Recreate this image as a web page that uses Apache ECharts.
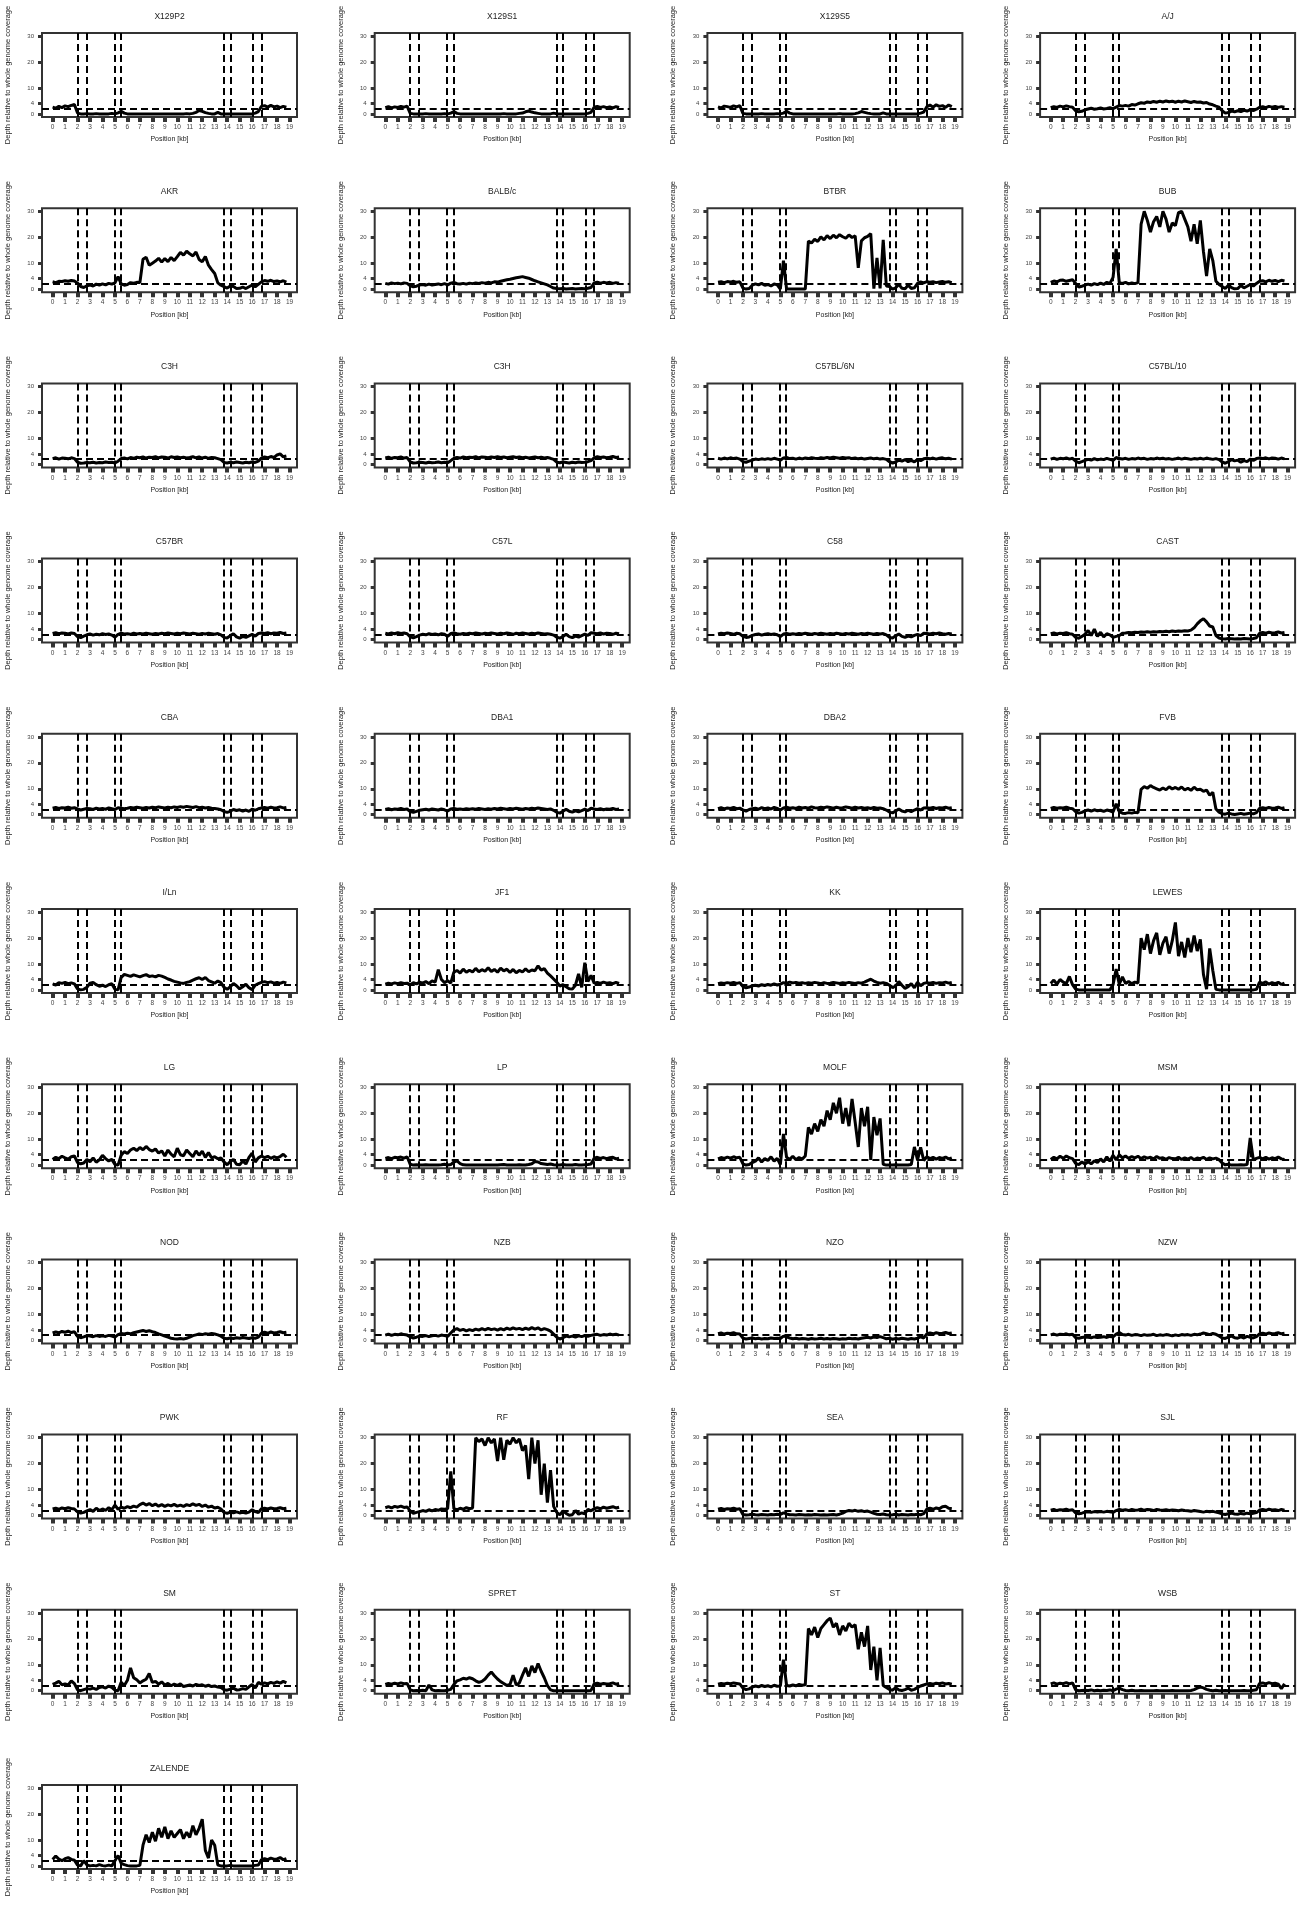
<!DOCTYPE html>
<html>
<head>
<meta charset="utf-8">
<script src="https://cdn.jsdelivr.net/npm/echarts@6/dist/echarts.min.js"></script>
<style>
html, body { margin: 0; padding: 0; background: #fff; }
#main { width: 1297px; height: 1910px; }
</style>
</head>
<body>
<div id="main"></div>
<script>
// sample spacing along the locus (kb)
var STEP = 0.25;
var positions = [];
for (var i = 0; i < 76; i++) positions.push(i * STEP);

var ticksX = [0, 1, 2, 3, 4, 5, 6, 7, 8, 9, 10, 11, 12, 13, 14, 15, 16, 17, 18, 19];
var ticksY = [0, 2, 4, 10, 20, 30];
var boundaries = [2.0, 2.7, 4.95, 5.45, 13.75, 14.25, 16.05, 16.75];
var baseline = 2;

var strains = ['X129P2', 'X129S1', 'X129S5', 'A/J',
  'AKR', 'BALB/c', 'BTBR', 'BUB',
  'C3H', 'C3H', 'C57BL/6N', 'C57BL/10',
  'C57BR', 'C57L', 'C58', 'CAST',
  'CBA', 'DBA1', 'DBA2', 'FVB',
  'I/Ln', 'JF1', 'KK', 'LEWES',
  'LG', 'LP', 'MOLF', 'MSM',
  'NOD', 'NZB', 'NZO', 'NZW',
  'PWK', 'RF', 'SEA', 'SJL',
  'SM', 'SPRET', 'ST', 'WSB',
  'ZALENDE'];

// depth relative to whole genome coverage, one value per STEP
var dX129P2 = [2.6,2.2,2.9,2.4, 3.1,2.8,3.3,3.6, 0.3,0,0,0.1, 0,0,0.1,0, 0,0,0,0.2, 0,0.4,1.0,0.3, 0,0,0,0, 0,0,0,0, 0,0,0,0, 0,0,0,0, 0,0,0,0.1, 0,0.2,0.6,1.3, 1.0,0.5,0.2,0, 0,0.6,0,0, 0,0,0,0, 0,0,0,0, 0,0.3,0.9,2.9, 3.2,2.6,3.3,2.7, 3.0,2.4,2.9,2.6];
var dX129S1 = [2.4,2.8,2.3,2.7, 2.5,2.9,2.6,3.0, 0.2,0,0,0, 0,0.1,0,0, 0,0,0,0.1, 0,0.3,0.9,0.2, 0,0,0,0, 0,0,0,0, 0,0,0,0, 0,0,0.1,0, 0,0,0,0.2, 0.3,0.8,1.1,0.7, 0.4,0.2,0,0, 0,0,0.3,0, 0,0,0,0, 0,0,0,0, 0,0.2,0.6,2.6, 2.9,2.5,2.8,2.4, 2.7,2.3,2.8,2.5];
var dX129S5 = [2.7,2.3,3.0,2.8, 2.5,3.1,2.7,3.2, 0.2,0,0,0, 0,0,0.1,0, 0,0,0,0.1, 0,0.3,1.0,0.3, 0,0,0,0, 0,0,0,0, 0,0,0,0, 0,0,0,0.1, 0,0,0,0, 0.1,0.4,0.9,0.6, 0.3,0.1,0,0, 0,0.4,0,0, 0,0,0,0, 0,0,0,0, 0,0.3,0.7,2.8, 3.4,2.6,3.5,2.9, 3.2,2.5,3.4,2.8];
var dAJ = [2.4,2.8,2.5,3.0, 2.7,3.1,2.8,2.6, 1.2,0.8,1.0,1.6, 1.9,2.2,1.8,2.0, 2.3,1.9,2.1,2.4, 2.0,2.6,3.2,3.0, 3.3,3.0,3.6,3.4, 3.9,4.3,4.1,4.6, 4.4,4.8,4.5,4.9, 4.6,5.0,4.7,4.9, 4.5,4.9,4.6,5.0, 4.7,4.4,4.8,4.5, 4.6,4.2,4.4,3.8, 3.5,3.0,2.6,1.2, 0.3,0.5,1.1,0.8, 1.2,0.9,1.4,1.1, 1.6,1.3,1.8,2.5, 2.8,2.4,2.9,2.6, 2.9,2.5,2.8,2.6];
var dAKR = [2.8,2.5,3.0,2.9, 3.2,3.0,3.3,3.1, 2.3,1.0,0.6,1.3, 1.6,1.2,1.9,1.5, 2.0,1.6,2.2,1.9, 2.4,4.8,2.0,1.5, 1.8,2.5,2.3,2.6, 2.5,11.5,12.3,9.2, 10.0,10.8,11.9,10.4, 11.8,10.6,12.2,11.0, 12.5,14.2,13.1,14.6, 13.6,12.8,14.3,11.4, 10.5,12.6,9.2,7.5, 6.0,2.4,1.5,0.9, 0.4,1.2,1.0,0.2, 0.3,0.8,0.2,0.9, 1.5,0.9,1.8,2.8, 3.3,3.0,3.4,2.9, 3.1,2.8,3.2,2.7];
var dBALBc = [2.2,1.9,2.4,2.1, 2.3,2.0,2.4,2.2, 1.3,0.9,1.1,1.6, 1.8,1.5,1.9,1.6, 1.8,2.0,1.7,2.1, 1.6,2.3,2.6,2.1, 2.0,2.2,1.9,2.3, 2.1,2.4,2.2,2.5, 2.3,2.6,2.4,2.8, 2.7,3.0,3.3,3.6, 3.8,4.1,4.4,4.6, 4.8,4.5,4.2,3.7, 3.2,2.8,2.4,2.0, 1.6,1.0,0.4,0.2, 0.1,0.2,0,0.1, 0.2,0,0.1,0.2, 0.1,0.3,0.6,2.4, 2.7,2.3,2.6,2.4, 2.6,2.2,2.5,2.3];
var dBTBR = [2.6,2.8,2.5,2.9, 2.7,3.0,2.6,2.8, 0.4,0,0.2,1.5, 2.0,1.6,2.2,1.5, 1.8,1.2,2.0,1.6, 0,11.0,0,0, 0,0,0,0, 0,18.5,17.8,19.2, 18.4,20.1,19.0,20.6, 19.5,20.8,19.8,21.0, 20.2,19.6,20.9,19.9, 20.5,8.2,18.6,19.8, 20.3,21.4,0.2,12.0, 0.3,19.0,1.2,1.0, 0,0.5,1.8,0.3, 0.1,1.6,0.2,0.5, 2.2,2.8,2.4,2.9, 2.6,2.8,2.5,2.7, 2.9,2.6,2.8,2.5];
var dBUB = [2.6,3.1,2.8,3.4, 3.5,3.0,3.3,3.6, 2.2,0.8,1.1,1.5, 1.9,1.5,2.1,1.7, 2.3,1.8,2.6,2.2, 4.5,15.5,2.5,2.2, 2.6,2.0,2.4,2.1, 2.5,25.0,30.0,26.5, 22.0,26.0,28.0,24.0, 30.0,27.0,22.0,25.5, 24.5,29.5,30.0,27.0, 24.0,18.5,25.0,17.5, 26.5,14.5,5.0,15.5, 11.0,3.0,1.8,1.0, 0.2,1.5,0.6,0.1, 0.2,1.4,0.5,1.1, 1.8,1.2,2.2,3.0, 3.2,2.8,3.4,3.0, 3.3,2.9,3.4,3.1];
var dC3Ha = [2.2,2.5,2.0,2.4, 2.3,2.1,2.5,2.2, 0.8,0.4,0.5,0.7, 0.6,0.8,0.5,0.7, 0.6,0.9,0.7,0.8, 0.5,1.2,2.2,2.4, 2.1,2.6,2.3,2.7, 2.5,2.8,2.4,2.7, 2.6,2.9,2.5,2.8, 2.7,2.4,2.9,2.6, 2.8,2.5,2.7,2.4, 2.6,2.9,2.5,2.8, 2.4,2.7,2.3,2.6, 2.5,2.2,1.8,0.7, 0.5,0.8,0.6,0.9, 0.7,0.5,0.8,0.6, 0.9,0.7,1.2,2.4, 2.8,2.5,3.0,2.6, 3.6,4.0,2.9,3.2];
var dC3Hb = [2.4,2.7,2.3,2.6, 2.5,2.8,2.4,2.6, 0.9,0.5,0.6,0.8, 0.7,0.5,0.8,0.6, 0.7,0.9,0.6,0.8, 0.6,1.4,2.3,2.6, 2.4,2.8,2.5,2.7, 2.6,2.9,2.5,2.8, 2.7,2.5,2.8,2.6, 2.9,2.6,2.8,2.5, 2.7,2.9,2.6,2.8, 2.5,2.7,2.4,2.6, 2.8,2.5,2.7,2.4, 2.6,2.3,1.9,0.8, 0.6,0.9,0.7,0.5, 0.8,0.6,0.9,0.7, 0.8,1.0,1.4,2.5, 2.9,2.6,2.8,2.5, 2.7,3.0,2.6,2.8];
var dC57BL6N = [2.3,2.0,2.4,2.1, 2.5,2.2,2.4,2.0, 1.0,0.8,1.2,1.6, 2.0,1.8,2.1,1.9, 2.2,1.9,2.3,2.0, 1.6,2.4,2.6,2.2, 2.3,2.0,2.4,2.1, 2.4,2.2,2.5,2.3, 2.2,2.5,2.3,2.6, 2.4,2.7,2.5,2.3, 2.6,2.4,2.5,2.2, 2.4,2.1,2.3,2.0, 2.2,2.4,2.1,2.3, 2.0,2.2,1.9,1.0, 0.5,0.9,1.6,1.2, 1.8,1.0,1.5,0.9, 1.9,1.4,2.1,2.3, 2.1,2.4,2.0,2.3, 2.5,2.1,2.3,2.0];
var dC57BL10 = [2.0,2.4,1.9,2.3, 2.1,2.5,2.0,2.3, 1.2,0.6,1.0,1.5, 1.9,1.6,2.2,1.7, 2.0,1.8,2.3,1.9, 1.5,2.6,2.2,2.0, 2.3,1.9,2.2,2.0, 2.4,2.1,2.3,1.9, 2.2,2.0,2.4,2.1, 2.3,2.0,2.2,1.9, 2.1,2.4,2.0,2.3, 2.1,1.9,2.2,2.0, 2.3,2.0,2.4,2.1, 1.9,2.2,1.8,0.9, 0.4,1.0,1.8,1.3, 1.6,0.8,1.4,1.0, 2.0,1.5,2.2,2.4, 2.2,2.5,2.1,2.4, 2.3,2.0,2.4,2.1];
var dC57BR = [2.3,2.6,2.2,2.5, 2.4,2.1,2.5,2.3, 1.1,0.7,1.3,1.8, 2.1,1.7,2.0,1.8, 2.2,1.9,2.1,1.7, 0.9,2.0,2.4,2.1, 2.2,2.0,2.4,2.1, 2.3,2.1,2.4,2.2, 2.0,2.3,2.1,2.4, 2.2,2.5,2.3,2.1, 2.4,2.2,2.5,2.3, 2.1,2.4,2.2,2.0, 2.3,2.1,2.4,2.2, 2.0,2.3,1.8,0.8, 0.6,1.5,2.2,1.0, 0.5,1.2,0.8,1.4, 2.0,1.3,2.3,2.5, 2.3,2.6,2.2,2.5, 2.4,2.7,2.3,2.5];
var dC57L = [2.4,2.1,2.5,2.2, 2.6,2.3,2.5,2.2, 1.0,0.6,1.1,1.7, 2.0,1.8,2.2,1.9, 2.1,1.8,2.2,2.0, 1.2,2.3,2.5,2.2, 2.0,2.3,2.1,2.4, 2.2,2.5,2.3,2.1, 2.4,2.2,2.5,2.3, 2.1,2.4,2.2,2.5, 2.3,2.0,2.4,2.2, 2.5,2.3,2.1,2.4, 2.2,2.5,2.3,2.1, 2.2,2.0,1.7,0.9, 0.5,1.2,2.0,1.1, 0.7,1.3,0.9,1.5, 2.1,1.6,2.6,2.4, 2.2,2.5,2.1,2.4, 2.3,2.0,2.4,2.2];
var dC58 = [2.1,2.4,2.2,2.5, 2.3,2.0,2.4,2.2, 1.2,0.8,1.0,1.6, 1.9,2.1,1.7,2.0, 2.2,1.9,2.1,1.8, 1.1,2.1,2.3,2.0, 2.2,2.0,2.3,2.1, 2.4,2.2,2.0,2.3, 2.1,2.4,2.2,2.0, 2.3,2.1,2.4,2.2, 2.0,2.3,2.1,2.4, 2.2,2.0,2.3,2.1, 2.4,2.2,2.0,2.3, 2.1,2.3,1.8,0.8, 0.6,1.4,2.1,1.2, 0.8,1.3,1.0,1.6, 2.0,1.5,2.4,2.3, 2.1,2.4,2.2,2.5, 2.2,2.0,2.3,2.1];
var dCAST = [2.2,2.5,2.1,2.4, 2.3,2.6,2.2,2.0, 0.8,0.5,1.2,2.0, 3.5,1.5,4.0,1.2, 2.8,1.0,2.2,1.8, 0.8,1.2,1.5,2.4, 2.5,2.7,2.6,2.8, 2.7,2.9,2.8,3.0, 2.8,3.0,2.9,3.1, 3.0,3.2,3.0,3.3, 3.1,3.3,3.2,3.4, 3.3,3.6,4.5,6.0, 7.2,8.0,6.8,5.2, 4.8,1.5,0.6,0.3, 0.2,0.4,0.3,0.2, 0.3,0.2,0.4,0.3, 0.2,0.4,0.7,2.4, 2.7,2.4,2.8,2.5, 2.6,2.9,2.5,2.7];
var dCBA = [2.5,2.8,2.4,2.7, 2.6,2.9,2.5,2.7, 2.2,1.8,2.1,2.4, 2.3,2.0,2.5,2.2, 2.4,2.1,2.6,2.3, 2.0,2.7,2.5,2.3, 2.5,2.8,2.6,2.9, 2.7,2.5,2.8,2.6, 2.9,2.7,3.0,2.8, 2.6,2.9,2.7,3.0, 2.8,3.1,2.9,3.2, 3.0,2.8,3.1,2.7, 2.9,2.6,2.8,2.5, 2.4,2.2,1.9,1.2, 0.9,1.3,2.0,1.6, 1.9,1.4,1.8,1.3, 2.1,1.7,2.3,2.6, 2.8,2.5,2.9,2.6, 2.7,3.0,2.6,2.8];
var dDBA1 = [2.0,2.3,1.9,2.2, 2.1,2.4,2.0,2.2, 1.2,0.9,1.3,1.7, 1.9,2.1,1.8,2.2, 2.0,1.8,2.2,1.9, 1.4,2.2,2.4,2.1, 2.2,2.0,2.3,2.1, 2.3,2.1,2.4,2.2, 2.0,2.3,2.1,2.4, 2.2,2.5,2.3,2.1, 2.4,2.2,2.5,2.3, 2.1,2.4,2.2,2.5, 2.3,2.6,2.4,2.2, 2.0,2.2,1.7,0.9, 0.6,1.3,2.1,1.3, 1.0,1.5,1.1,1.6, 2.1,1.6,2.5,2.2, 2.0,2.3,1.9,2.2, 2.1,2.4,2.0,2.2];
var dDBA2 = [2.3,2.7,2.2,2.6, 2.4,2.8,2.3,2.5, 1.9,1.4,2.0,2.3, 2.5,2.1,2.7,2.3, 2.6,2.2,2.8,2.4, 1.8,2.6,2.9,2.5, 2.7,2.4,2.9,2.6, 2.8,2.5,3.0,2.7, 2.6,2.9,2.7,3.0, 2.8,2.5,2.9,2.6, 2.7,3.0,2.8,2.5, 2.9,2.6,2.8,2.5, 2.7,2.4,2.8,2.5, 2.6,2.3,1.8,1.0, 0.7,1.4,2.2,1.4, 1.1,1.7,1.2,1.8, 2.3,1.8,2.6,2.7, 2.5,2.8,2.4,2.7, 2.6,2.9,2.5,2.7];
var dFVB = [2.4,2.8,2.5,2.7, 2.6,2.9,2.5,2.3, 1.2,0.6,0.9,1.5, 1.8,1.4,1.9,1.5, 1.7,1.3,1.8,1.5, 1.0,4.2,1.2,0.6, 0.5,0.8,0.6,0.9, 0.7,9.8,10.8,10.2, 11.2,10.5,10.0,9.5, 10.3,9.6,10.8,9.9, 10.5,9.8,10.7,9.5, 10.2,9.4,10.6,9.6, 9.8,9.0,9.5,7.5, 8.6,2.2,1.0,0.4, 0.2,0.6,0.3,0.1, 0.3,0.5,0.2,0.4, 0.6,0.3,0.8,2.4, 2.7,2.4,2.8,2.5, 2.6,2.9,2.4,2.7];
var dILn = [2.3,1.9,2.8,2.5, 2.9,2.4,2.7,2.3, 0.4,0,0.2,1.0, 2.6,2.9,2.0,1.4, 1.8,1.3,2.0,2.4, 0.2,0,4.8,6.0, 5.6,5.2,5.8,5.4, 5.0,5.5,5.9,5.2, 5.4,5.0,5.6,5.3, 4.8,4.2,3.8,3.3, 3.0,2.7,2.5,2.9, 3.2,3.8,4.3,4.7, 4.0,4.8,3.6,3.1, 2.6,3.4,2.8,1.0, 0.2,1.2,2.5,1.6, 0.4,1.2,2.2,0.8, 0.1,1.8,2.4,2.9, 3.2,2.8,3.1,2.6, 2.9,2.5,3.0,2.7];
var dJF1 = [2.2,2.6,2.3,2.7, 2.4,2.8,2.5,2.6, 2.0,2.8,2.3,3.0, 2.6,3.2,2.4,3.5, 3.0,7.8,4.0,2.8, 3.5,2.6,6.8,7.5, 6.5,8.0,6.8,7.6, 6.9,8.3,7.0,7.8, 7.2,8.5,7.1,7.9, 6.8,8.4,7.3,8.0, 6.7,7.9,6.6,7.5, 6.9,8.1,7.0,7.7, 7.4,9.3,7.6,8.2, 6.5,5.4,4.2,3.0, 1.5,2.0,1.2,0.4, 0.3,1.8,6.2,1.0, 10.5,3.2,5.6,2.6, 2.9,2.5,3.0,2.6, 2.8,2.4,2.9,2.5];
var dKK = [2.4,2.7,2.5,2.8, 2.6,2.9,2.5,2.8, 1.3,0.8,1.1,1.6, 1.8,1.5,2.0,1.7, 2.1,1.8,2.3,1.9, 2.2,2.8,2.6,3.0, 2.7,2.9,2.6,2.8, 2.5,2.8,2.6,2.9, 2.7,2.4,2.8,2.5, 2.6,2.9,2.7,2.5, 2.8,2.6,2.9,2.7, 2.5,2.8,2.6,3.0, 3.6,4.1,3.4,2.9, 2.6,2.8,2.5,1.8, 0.9,1.5,3.2,1.8, 0.6,1.2,2.4,0.8, 3.0,1.6,2.5,2.8, 2.6,2.9,2.5,2.8, 2.7,3.0,2.6,2.9];
var dLEWES = [2.5,3.8,2.2,4.0, 3.0,2.4,5.2,2.0, 0.3,0,0,0, 0,0,0,0, 0,0,0,0, 2.0,8.0,2.2,5.0, 2.5,3.2,2.4,3.0, 2.6,20.0,15.5,21.5, 14.0,19.0,22.0,13.5, 18.0,20.5,14.0,19.0, 26.0,13.0,18.5,12.5, 20.0,14.5,21.0,15.0, 19.5,6.0,0.3,16.0, 7.5,0.2,0,0, 0,0,0,0, 0,0,0,0, 0,0,0.2,3.0, 2.5,3.1,2.2,2.8, 2.4,2.9,2.1,2.6];
var dLG = [2.2,3.0,2.5,3.4, 2.8,2.3,3.2,3.5, 1.0,0.5,0.8,2.2, 1.3,2.8,1.1,2.0, 3.8,2.5,1.6,2.2, 0.2,0,3.8,5.2, 4.5,5.8,6.5,5.6, 6.8,5.9,7.2,6.0, 5.4,6.2,4.6,5.5, 3.5,5.8,4.2,3.2, 6.5,4.0,3.6,5.8, 4.5,3.2,5.5,3.8, 5.4,3.0,4.8,2.8, 3.2,2.4,2.8,1.2, 0.1,1.4,2.2,0.3, 0.1,1.6,0.4,3.0, 4.6,1.2,2.8,3.5, 2.9,3.4,2.6,3.2, 2.8,3.3,4.2,3.0];
var dLP = [2.6,2.9,2.5,3.0, 2.8,3.1,2.7,3.2, 0.3,0,0.1,0, 0,0.1,0,0, 0,0,0.1,0.3, 0,0.2,1.2,1.6, 0.6,0.1,0,0, 0,0,0,0, 0,0,0,0, 0,0.1,0.2,0, 0,0,0,0.1, 0,0,0.2,0.5, 1.4,1.2,0.6,0.4, 0.2,0.4,0.1,0, 0,0.2,0,0, 0,0.2,0,0, 0.1,0.2,0.4,2.7, 3.0,2.6,2.9,2.5, 2.8,3.0,2.4,2.7];
var dMOLF = [2.4,2.9,2.6,3.1, 2.7,3.2,2.8,3.0, 0.5,0,0.2,1.0, 1.5,2.8,1.2,2.5, 1.8,3.2,1.5,2.6, 0.2,12.0,3.0,2.2, 3.4,2.1,2.9,2.3, 3.5,14.5,12.0,16.0, 13.0,17.5,15.0,21.0, 17.5,24.0,20.0,26.0, 16.0,22.0,15.0,25.5, 16.5,7.0,22.0,15.0, 22.5,2.0,18.5,11.5, 18.0,0.3,0,0, 0,0.1,0,0, 0,0,0.2,7.0, 2.0,6.8,1.8,3.2, 2.5,3.0,2.3,2.9, 2.6,3.1,2.4,2.8];
var dMSM = [2.2,3.0,2.4,3.4, 2.6,3.5,2.8,2.5, 0.6,0.2,1.2,0.4, 1.3,0.5,1.6,1.0, 2.4,1.2,3.2,1.5, 3.8,2.0,4.0,2.8, 3.5,2.6,3.3,2.8, 3.4,2.5,3.2,2.7, 3.0,2.4,3.3,2.6, 2.8,2.2,2.9,2.5, 2.4,3.0,2.2,2.8, 2.3,2.9,2.1,2.7, 2.5,3.0,2.2,2.8, 2.4,2.7,2.1,0.8, 0.1,0.3,0,0, 0,0.1,0,0.2, 10.5,2.0,2.6,3.0, 2.4,3.0,2.3,2.8, 2.5,3.1,2.4,2.2];
var dNOD = [2.8,3.2,2.9,3.4, 3.1,3.5,3.0,3.3, 1.5,1.0,1.3,1.8, 1.6,1.4,1.8,1.5, 1.7,1.5,1.9,1.6, 1.2,2.2,2.6,2.4, 2.7,2.5,2.9,3.2, 3.5,3.8,3.4,3.7, 3.3,3.0,2.5,2.1, 1.6,1.2,0.8,0.6, 0.5,0.7,0.5,0.8, 1.2,1.8,2.1,2.4, 2.2,2.5,2.3,2.6, 2.4,2.1,1.6,0.8, 0.6,0.9,0.7,1.0, 0.8,1.1,0.9,0.7, 1.0,0.8,1.2,2.8, 3.1,2.7,3.2,2.8, 3.0,3.3,2.9,3.1];
var dNZB = [2.0,2.4,1.9,2.3, 2.1,2.5,2.2,2.0, 1.3,0.9,1.2,1.6, 1.5,1.8,1.4,1.7, 1.9,1.6,2.0,1.8, 1.5,2.8,4.0,4.5, 3.8,4.2,3.6,4.1, 3.7,4.3,3.9,4.5, 4.0,4.6,4.1,4.4, 3.9,4.5,4.0,4.7, 4.2,4.8,4.3,4.6, 4.1,4.7,4.2,4.9, 4.3,4.8,4.0,4.5, 4.1,3.5,2.4,1.2, 0.5,1.0,1.6,1.3, 1.6,1.2,1.7,1.4, 1.8,1.5,1.9,2.1, 2.3,1.9,2.2,2.0, 2.4,2.1,2.3,2.0];
var dNZO = [2.5,2.8,2.4,2.7, 2.6,2.9,2.5,2.4, 0.8,0.5,0.7,0.9, 0.6,0.8,0.5,0.7, 0.6,0.9,0.7,0.8, 0.7,1.6,1.3,0.9, 0.6,0.8,0.5,0.7, 0.6,0.4,0.7,0.5, 0.6,0.8,0.5,0.7, 0.5,0.7,0.6,0.4, 0.6,0.5,0.8,0.6, 0.7,0.5,0.8,1.0, 1.2,0.9,1.3,1.1, 1.4,1.0,0.6,0.8, 0.4,0.7,0.5,0.8, 0.6,0.4,0.7,0.5, 0.8,1.3,0.9,2.5, 2.8,2.5,2.9,2.6, 2.7,3.0,2.6,2.8];
var dNZW = [2.1,2.4,2.0,2.3, 2.2,2.5,2.1,2.3, 1.0,0.8,1.1,1.3, 1.2,1.0,1.3,1.1, 1.2,1.4,1.1,1.5, 1.3,2.4,3.0,2.2, 2.0,2.3,1.9,2.2, 2.1,1.8,2.2,1.9, 2.0,2.3,1.8,2.1, 1.9,2.2,2.0,1.7, 2.1,1.8,2.2,2.0, 2.2,1.9,2.3,2.1, 2.4,2.8,2.5,2.2, 2.6,2.3,1.7,0.9, 0.7,1.2,1.6,1.0, 0.8,1.3,0.9,1.5, 1.2,0.9,1.4,2.5, 2.7,2.4,2.8,2.5, 2.6,2.9,2.5,2.7];
var dPWK = [2.5,2.8,2.4,2.9, 2.6,3.0,2.7,2.5, 1.4,0.9,1.2,1.8, 2.3,1.6,2.8,1.9, 2.5,2.0,3.0,2.2, 4.0,2.4,3.2,2.8, 3.4,3.0,3.6,3.2, 4.2,4.8,4.0,4.6, 3.8,4.4,3.6,4.2, 3.5,4.1,3.7,4.3, 3.6,4.0,3.5,4.2, 3.8,4.5,3.9,4.3, 3.5,4.0,3.2,3.6, 2.9,3.2,2.5,1.2, 0.8,1.3,1.0,1.4, 1.0,1.2,0.9,1.3, 2.2,1.5,1.1,2.6, 2.8,2.5,2.9,2.6, 2.7,3.0,2.6,2.8];
var dRF = [3.0,3.4,2.9,3.5, 3.2,3.6,3.1,3.3, 1.8,0.8,1.2,1.5, 1.9,1.6,2.2,1.8, 2.3,2.0,2.5,2.4, 2.6,17.0,2.6,2.2, 2.8,2.4,3.0,2.6, 2.9,30.0,28.5,29.5, 27.0,30.0,28.0,29.5, 21.0,30.0,21.5,29.0, 27.5,30.0,28.0,29.5, 25.0,27.0,14.0,30.0, 20.0,29.0,8.0,20.0, 5.0,17.5,3.5,1.2, 0.2,1.8,0.8,0.1, 0.3,1.9,0.5,1.0, 0.6,2.4,1.8,2.6, 3.0,2.6,3.2,2.8, 3.1,3.4,2.9,3.2];
var dSEA = [2.4,2.7,2.3,2.6, 2.5,2.8,2.4,2.6, 0.4,0.2,0.3,0.5, 0.3,0.2,0.4,0.3, 0.2,0.4,0.3,0.5, 0.4,1.0,0.6,0.3, 0.3,0.2,0.4,0.3, 0.2,0.3,0.2,0.4, 0.3,0.2,0.3,0.2, 0.3,0.4,0.2,0.5, 0.9,1.6,1.9,1.7, 2.0,1.6,1.8,1.5, 1.7,1.3,0.8,0.5, 0.4,0.6,0.3,0.2, 0.3,0.5,0.2,0.4, 0.3,0.2,0.4,0.3, 0.5,0.3,0.7,2.5, 2.8,2.4,2.9,2.6, 3.4,3.6,2.8,2.6];
var dSJL = [2.0,2.3,1.9,2.2, 2.1,2.4,2.0,2.2, 1.0,0.7,0.9,1.3, 1.4,1.2,1.5,1.3, 1.5,1.3,1.6,1.4, 1.2,1.9,2.3,2.0, 2.2,1.9,2.3,2.0, 2.1,2.4,2.0,2.3, 2.2,1.9,2.3,2.1, 2.0,2.2,1.9,2.1, 2.0,1.8,2.1,1.9, 1.8,1.6,1.9,1.7, 1.5,1.3,1.6,1.4, 1.6,1.3,1.0,0.6, 0.4,0.7,0.9,0.6, 0.5,0.8,0.6,0.9, 0.7,0.9,1.1,2.1, 2.3,2.0,2.4,2.1, 2.2,1.9,2.3,2.0];
var dSM = [2.4,2.9,3.6,2.3, 2.6,2.2,3.8,2.7, 0.3,0,0.4,0.8, 0.6,1.0,0.5,1.2, 1.5,1.0,1.8,1.3, 0.2,0,3.2,2.0, 4.0,8.8,5.0,4.2, 3.0,3.8,4.4,6.6, 3.2,3.6,2.5,3.4, 2.2,2.8,1.9,2.5, 2.0,2.6,1.6,1.9, 2.2,1.8,2.4,2.0, 2.3,1.7,2.1,1.6, 1.8,1.4,1.2,0.4, 0.2,0.6,1.0,0.3, 0.4,0.8,0.5,1.5, 2.4,1.0,3.2,2.5, 3.0,2.6,3.2,2.8, 3.4,2.9,3.6,3.0];
var dSPRET = [2.4,2.8,2.5,2.9, 2.6,3.0,2.7,2.8, 0.3,0,0.1,0, 0.2,0,2.2,0.3, 0,0.1,0,0, 0.2,0.5,2.4,3.8, 4.2,4.8,4.5,5.0, 4.6,3.8,3.2,3.6, 4.5,6.0,7.2,5.8, 4.5,3.5,2.8,2.0, 2.4,6.0,2.2,3.0, 6.0,8.8,5.5,9.6, 7.0,10.5,7.5,5.0, 2.0,0.3,0,0, 0,0,0,0, 0,0,0,0, 0,0,0.1,2.6, 2.9,2.5,2.8,2.6, 2.7,3.0,2.5,2.8];
var dST = [2.5,2.8,2.6,2.9, 2.7,3.0,2.8,2.6, 1.0,0.4,0.7,1.4, 1.8,1.5,2.0,1.6, 1.9,1.5,2.1,1.7, 1.8,12.0,2.0,1.8, 2.2,1.9,2.4,2.1, 2.3,24.0,21.5,24.5, 20.5,24.0,25.5,27.0, 28.0,24.5,26.0,21.5, 25.0,23.0,26.0,24.5, 25.5,16.0,22.5,17.0, 25.0,8.0,17.0,4.0, 16.5,2.0,1.2,0.5, 0.2,1.2,0.3,0.1, 0.4,1.0,0.2,0.5, 1.2,1.8,2.2,2.6, 2.8,2.5,2.9,2.7, 3.0,2.6,2.8,2.5];
var dWSB = [2.6,3.0,2.5,2.9, 2.7,3.1,2.6,3.0, 0.3,0,0.1,0.2, 0.1,0.3,0,0.2, 0,0.2,0.1,0.3, 0,0.6,1.0,0.4, 0.1,0,0.2,0, 0,0.1,0,0, 0,0,0.1,0, 0,0,0,0.1, 0,0,0,0, 0,0.1,0.4,1.0, 1.4,1.1,0.5,0.2, 0,0.2,0,0, 0.1,0,0,0, 0,0,0.1,0, 0,0.2,0.4,2.8, 3.0,2.6,3.1,2.7, 2.9,2.5,0.8,2.7];
var dZALENDE = [2.5,3.8,2.6,2.0, 2.8,3.2,2.5,2.2, 0.3,0,2.0,0.4, 0,0.2,0,0.5, 0.1,0,0.3,0, 2.0,4.0,1.0,0.5, 0.1,0,0,0, 0.2,8.0,12.0,9.0, 13.0,9.5,14.5,11.0, 15.0,10.5,13.5,11.0, 12.5,14.0,10.5,13.0, 11.0,15.5,12.0,14.5, 18.0,6.0,3.0,10.0, 8.0,0.3,0,0, 0,0.2,0,0, 0,0,0,0, 0,0.2,0.3,2.4, 2.8,2.4,3.0,2.6, 2.7,3.2,2.4,2.8];

var depths = [dX129P2, dX129S1, dX129S5, dAJ,
  dAKR, dBALBc, dBTBR, dBUB,
  dC3Ha, dC3Hb, dC57BL6N, dC57BL10,
  dC57BR, dC57L, dC58, dCAST,
  dCBA, dDBA1, dDBA2, dFVB,
  dILn, dJF1, dKK, dLEWES,
  dLG, dLP, dMOLF, dMSM,
  dNOD, dNZB, dNZO, dNZW,
  dPWK, dRF, dSEA, dSJL,
  dSM, dSPRET, dST, dWSB,
  dZALENDE];

var FONT = 'Liberation Sans';

function buildOption() {
  var grids = [], xAxes = [], yAxes = [], titles = [], series = [];
  for (var k = 0; k < strains.length; k++) {
    var col = k % 4, row = Math.floor(k / 4);
    var gLeft = 42 + col * 332.7;
    var gTop = 33 + row * 175.2;
    grids.push({
      left: gLeft, top: gTop, width: 255, height: 84,
      show: true, borderColor: '#333', borderWidth: 2,
      backgroundColor: 'rgba(0,0,0,0)'
    });
    titles.push({
      text: strains[k],
      left: gLeft + 127.5, top: gTop - 21,
      textAlign: 'center', padding: 0,
      textStyle: { fontSize: 8.5, fontWeight: 'normal', color: '#222', fontFamily: FONT }
    });
    xAxes.push({
      type: 'value', gridIndex: k, min: -0.85, max: 19.6, position: 'bottom',
      name: 'Position [kb]', nameLocation: 'middle', nameGap: 19,
      nameTextStyle: { fontSize: 7, color: '#222', fontFamily: FONT },
      axisLine: { show: false, onZero: false },
      axisTick: { show: true, customValues: ticksX, length: 5, lineStyle: { width: 4, color: '#333' } },
      axisLabel: { customValues: ticksX, showMinLabel: true, showMaxLabel: true, fontSize: 6.5, color: '#444', margin: 7, fontFamily: FONT },
      splitLine: { show: false }
    });
    yAxes.push({
      type: 'value', gridIndex: k, min: -1.2, max: 31.2, position: 'left',
      name: 'Depth relative to whole genome coverage', nameLocation: 'middle', nameGap: 30,
      nameTextStyle: { fontSize: 7.5, color: '#222', fontFamily: FONT },
      axisLine: { show: false, onZero: false },
      axisTick: { show: true, customValues: ticksY, length: 4, lineStyle: { width: 3, color: '#333' } },
      axisLabel: { customValues: ticksY, showMinLabel: true, showMaxLabel: true, hideOverlap: false, fontSize: 6, color: '#444', margin: 8, fontFamily: FONT },
      splitLine: { show: false }
    });

    var pts = [];
    for (var j = 0; j < positions.length; j++) pts.push([positions[j], depths[k][j]]);

    var marks = boundaries.map(function (b) { return { xAxis: b }; });
    marks.push({ yAxis: baseline });

    series.push({
      type: 'line', xAxisIndex: k, yAxisIndex: k,
      data: pts, showSymbol: false, symbol: 'none',
      lineStyle: { color: '#000', width: 3 },
      markLine: {
        silent: true, symbol: ['none', 'none'], label: { show: false },
        lineStyle: { type: [7, 4], color: '#000', width: 2 },
        data: marks
      }
    });
  }
  return {
    animation: false,
    backgroundColor: '#fff',
    title: titles,
    grid: grids,
    xAxis: xAxes,
    yAxis: yAxes,
    series: series
  };
}

var chart = echarts.init(document.getElementById('main'));
chart.setOption(buildOption());
</script>
</body>
</html>
